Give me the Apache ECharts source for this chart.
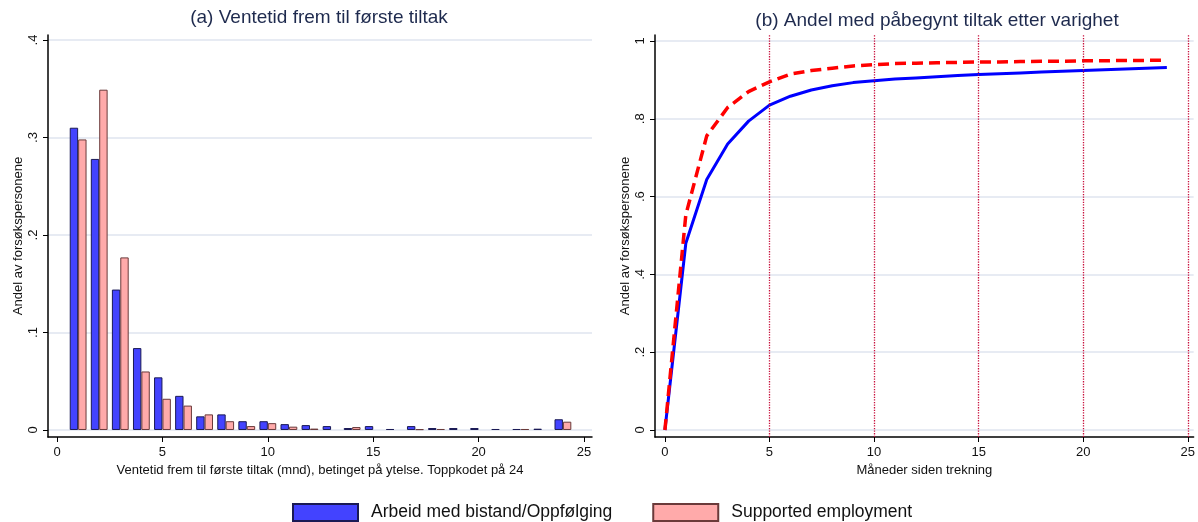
<!DOCTYPE html>
<html>
<head>
<meta charset="utf-8">
<script src="https://cdn.jsdelivr.net/npm/echarts@6/dist/echarts.min.js"></script>
<style>
html,body{margin:0;padding:0;background:#fff;}
#c{width:1198px;height:522px;}
</style>
</head>
<body>
<div id="c"></div>
<script>
// ---- Data ----
const months = [1,2,3,4,5,6,7,8,9,10,11,12,13,14,15,16,17,18,19,20,21,22,23,24];
const waitAB = [0.310,0.278,0.144,0.084,0.054,0.035,0.014,0.016,0.009,0.009,0.006,0.005,0.004,0.002,0.004,0.001,0.004,0.002,0.002,0.002,0.001,0.001,0.0013,0.011];
const waitSE = [0.298,0.349,0.177,0.060,0.032,0.025,0.016,0.009,0.004,0.007,0.0034,0.0014,0,0.003,0,0,0.0008,0.001,0,0,0,0.001,0,0.0085];

const durMonths = [0,1,2,3,4,5,6,7,8,9,10,11,12,13,14,15,16,17,18,19,20,21,22,23,24];
const cumAB = [0,0.480,0.644,0.735,0.794,0.835,0.858,0.874,0.885,0.893,0.898,0.902,0.905,0.908,0.911,0.914,0.916,0.918,0.920,0.922,0.924,0.926,0.928,0.930,0.932];
const cumSE = [0,0.553,0.756,0.829,0.870,0.895,0.915,0.924,0.930,0.936,0.939,0.942,0.943,0.944,0.945,0.946,0.946,0.947,0.948,0.948,0.949,0.949,0.950,0.950,0.951];

const xTicks = [0,5,10,15,20,25];
const yTicksA = [0,0.1,0.2,0.3,0.4];
const yTicksB = [0,0.2,0.4,0.6,0.8,1];
const vLines = [5,10,15,20,25];

const nameAB = 'Arbeid med bistand/Oppfølging';
const nameSE = 'Supported employment';

// ---- Chart ----
const FONT = 'Liberation Sans, Arial, sans-serif';
const gridColor = '#dfe4ef';
const fmt = v => { if (v === 0) return '0'; if (v === 1) return '1'; return String(v).replace(/^0/, ''); };

function pairs(xs, ys){ const out=[]; xs.forEach((x,i)=>{ if (ys[i] > 0) out.push([x, ys[i]]); }); return out; }
function linePairs(xs, ys){ return xs.map((x,i)=>[x, ys[i]]); }

const baseX = (min, max, name) => ({
  type:'value', min, max, name, nameLocation:'middle', nameGap:18,
  nameTextStyle:{fontFamily:FONT,fontSize:13,color:'#111'},
  axisLine:{show:true,onZero:false,lineStyle:{color:'#000',width:1.5}},
  axisTick:{show:true,length:5,customValues:xTicks,lineStyle:{color:'#000'}},
  axisLabel:{customValues:xTicks,fontFamily:FONT,fontSize:13,color:'#111',margin:9},
  splitLine:{show:false}
});
const baseY = (min, max, ticks) => ({
  type:'value', min, max, name:'Andel av forsøkspersonene', nameLocation:'middle', nameGap:23,
  nameTextStyle:{fontFamily:FONT,fontSize:13,color:'#111'},
  axisLine:{show:true,onZero:false,lineStyle:{color:'#000',width:1.5}},
  axisTick:{show:true,length:5,customValues:ticks,lineStyle:{color:'#000'}},
  axisLabel:{customValues:ticks,rotate:90,fontFamily:FONT,fontSize:13,color:'#111',margin:8,formatter:fmt},
  splitLine:{show:true,lineStyle:{color:gridColor,width:1.5}}
});

const chart = echarts.init(document.getElementById('c'), null, {renderer:'canvas'});
chart.setOption({
  animation:false,
  backgroundColor:'#fff',
  title:[
    {text:'(a) Ventetid frem til første tiltak', left:319, top:8, textAlign:'center', padding:0,
     textStyle:{fontFamily:FONT,fontSize:19,fontWeight:'normal',color:'#1e2a4e'}},
    {text:'(b) Andel med påbegynt tiltak etter varighet', left:937, top:11, textAlign:'center', padding:0,
     textStyle:{fontFamily:FONT,fontSize:19,fontWeight:'normal',color:'#1e2a4e'}}
  ],
  legend:{
    data:[nameAB,nameSE], left:292, top:503, padding:0, itemWidth:65, itemHeight:17, itemGap:40, icon:'rect',
    textStyle:{fontFamily:FONT,fontSize:17.5,color:'#111',padding:[2,0,0,8]}
  },
  grid:[
    {left:48, top:35, width:544, height:402},
    {left:655, top:35, width:543, height:402}
  ],
  xAxis:[
    Object.assign(baseX(-0.43, 25.38, 'Ventetid frem til første tiltak (mnd), betinget på ytelse. Toppkodet på 24'), {gridIndex:0}),
    Object.assign(baseX(-0.474, 25.28, 'Måneder siden trekning'), {gridIndex:1})
  ],
  yAxis:[
    Object.assign(baseY(-0.0072, 0.4051, yTicksA), {gridIndex:0}),
    Object.assign(baseY(-0.018, 1.0154, yTicksB), {gridIndex:1})
  ],
  series:[
    {name:nameAB, type:'bar', xAxisIndex:0, yAxisIndex:0, barWidth:8.4, barGap:'0%',
     data:pairs(months, waitAB),
     itemStyle:{color:'#4343ff', borderColor:'#1a1a55', borderWidth:1}},
    {name:nameSE, type:'bar', xAxisIndex:0, yAxisIndex:0, barWidth:8.4, barGap:'0%',
     data:pairs(months, waitSE),
     itemStyle:{color:'#ffaaaa', borderColor:'#6a3a3a', borderWidth:1}},
    {name:'cumAB', type:'line', xAxisIndex:1, yAxisIndex:1, data:linePairs(durMonths, cumAB),
     showSymbol:false, symbol:'none', lineStyle:{color:'#0000ff', width:3}, z:3,
     markLine:{silent:true, symbol:'none', label:{show:false},
       lineStyle:{color:'#c8103c', type:'dotted', width:1.3},
       data:vLines.map(v=>({xAxis:v}))}},
    {name:'cumSE', type:'line', xAxisIndex:1, yAxisIndex:1, data:linePairs(durMonths, cumSE),
     showSymbol:false, symbol:'none', lineStyle:{color:'#ff0000', width:3.5, type:[11,6]}, z:4}
  ]
});
</script>
</body>
</html>
